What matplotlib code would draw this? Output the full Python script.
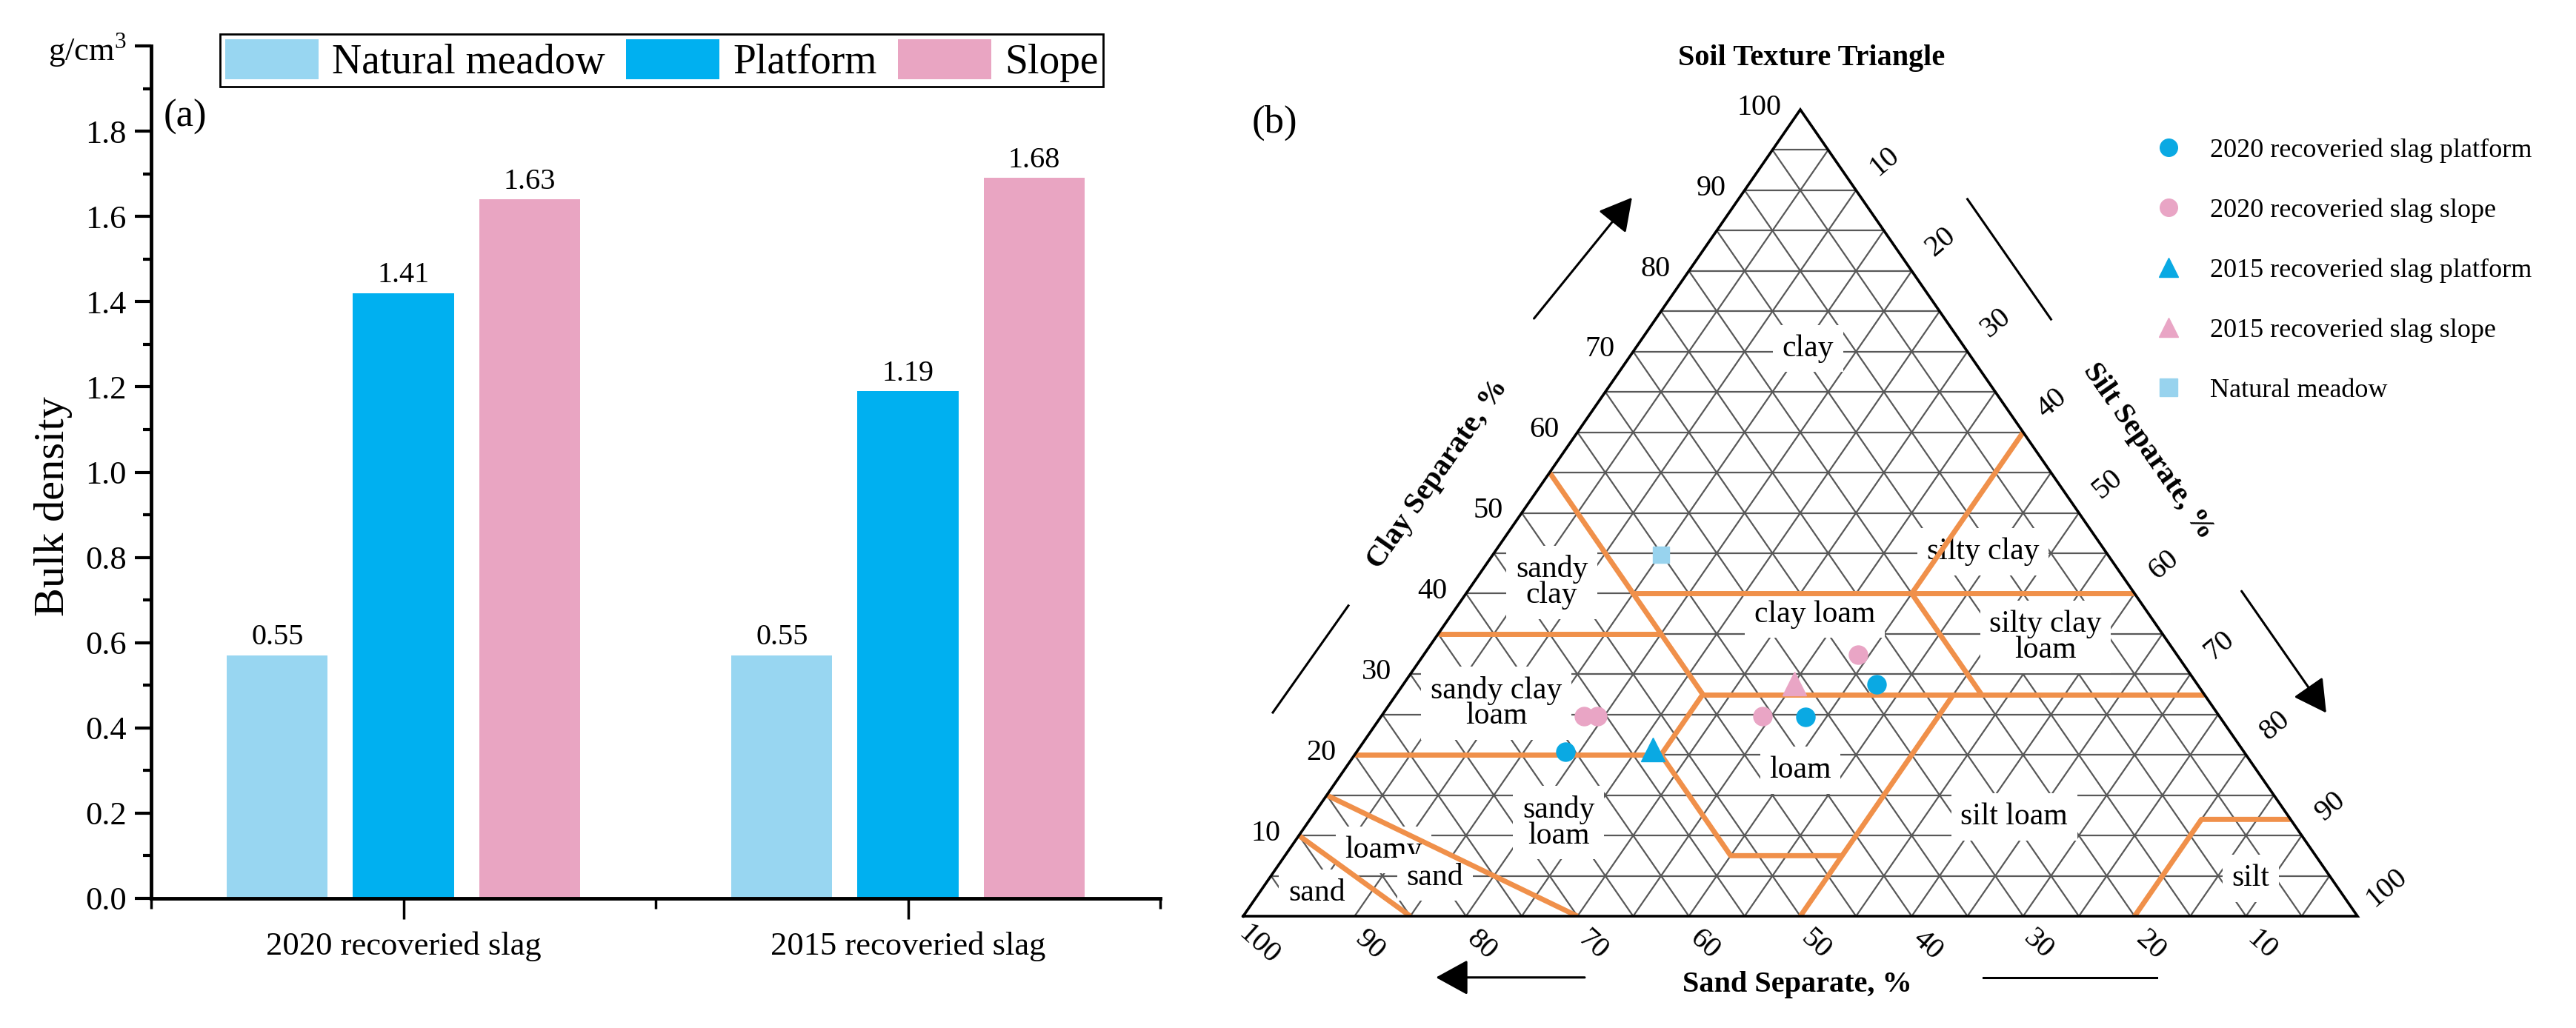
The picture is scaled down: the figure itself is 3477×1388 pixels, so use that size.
import matplotlib
matplotlib.use("Agg")
import matplotlib.pyplot as plt
from matplotlib.lines import Line2D
import numpy as np

plt.rcParams['font.family'] = ['Liberation Serif', 'DejaVu Serif']
plt.rcParams['mathtext.fontset'] = 'custom'
plt.rcParams['mathtext.rm'] = 'Liberation Serif'

# ---------------- panel (a): bulk density ----------------
groups = ['2020 recoveried slag', '2015 recoveried slag']
series = ['Natural meadow', 'Platform', 'Slope']
meadow_vals = [0.57, 0.57]
platform_vals = [1.42, 1.19]
slope_vals = [1.64, 1.69]
meadow_text = ['0.55', '0.55']
platform_text = ['1.41', '1.19']
slope_text = ['1.63', '1.68']
bar_colors = ['#98D6F1', '#00B0F0', '#E9A5C2']

# ---------------- panel (b): soil texture samples (sand, silt, clay %) ----------------
p2020_sand = [28.8, 37.2, 60.9]
p2020_silt = [42.5, 38.1, 18.7]
p2020_clay = [28.7, 24.7, 20.4]
s2020_sand = [28.6, 41.0, 57.0, 55.8]
s2020_silt = [39.0, 34.2, 18.2, 19.4]
s2020_clay = [32.4, 24.8, 24.8, 24.8]
p2015_sand = [52.9]
p2015_silt = [26.4]
p2015_clay = [20.7]
s2015_sand = [36.1]
s2015_silt = [35.1]
s2015_clay = [28.8]
nm_sand = [40.1]
nm_silt = [15.1]
nm_clay = [44.8]

# USDA class boundaries as (sand, silt, clay) polylines
boundaries = [
    [(45, 0, 55), (45, 27.5, 27.5), (52.5, 27.5, 20), (52.5, 40, 7.5), (42.5, 50, 7.5)],
    [(50, 50, 0), (22.5, 50, 27.5)],
    [(45, 15, 40), (0, 60, 40)],
    [(0, 40, 60), (20, 40, 40)],
    [(65, 0, 35), (45, 20, 35)],
    [(45, 27.5, 27.5), (0, 72.5, 27.5)],
    [(20, 40, 40), (20, 52.5, 27.5)],
    [(80, 0, 20), (52.5, 27.5, 20)],
    [(85, 0, 15), (70, 30, 0)],
    [(90, 0, 10), (85, 15, 0)],
    [(20, 80, 0), (8, 80, 12), (0, 88, 12)],
]
class_names = ['clay', 'silty clay', 'sandy\nclay', 'clay loam', 'silty clay\nloam',
               'sandy clay\nloam', 'loam', 'sandy\nloam', 'silt loam', 'loamy', 'sand', 'sand', 'silt']
class_pos = [(0.507, 0.704), (0.664, 0.452), (0.277, 0.414), (0.513, 0.374), (0.72, 0.346),
             (0.227, 0.264), (0.50, 0.181), (0.283, 0.116), (0.692, 0.123), (0.126, 0.082),
             (0.172, 0.048), (0.066, 0.029), (0.904, 0.047)]

W, H = 3477, 1388
fig = plt.figure(figsize=(W / 100, H / 100), dpi=100)


def px_box(x0, y0, x1, y1):
    return [x0 / W, 1 - y1 / H, (x1 - x0) / W, (y1 - y0) / H]


# ---------- bar chart ----------
ax = fig.add_axes(px_box(204, 62, 1566, 1213))
x = np.arange(len(groups))
width = 0.2
offsets = [-0.25, 0.0, 0.25]
for vals, txt, name, col, off in zip([meadow_vals, platform_vals, slope_vals],
                                     [meadow_text, platform_text, slope_text],
                                     series, bar_colors, offsets):
    bars = ax.bar(x + off, vals, width, color=col, label=name)
    ax.bar_label(bars, labels=txt, padding=4, fontsize=29)

ax.set_xlim(-0.5, 1.5)
ax.set_ylim(0, 2.0)
for s in ['top', 'right']:
    ax.spines[s].set_visible(False)
for s in ['left', 'bottom']:
    ax.spines[s].set_linewidth(3.5)

yt = np.round(np.arange(0, 2.01, 0.2), 1)
ax.set_yticks(yt)
ax.set_yticklabels([f'{v:.1f}' for v in yt[:-1]] + ['g/cm$^{3}$'])
ax.set_yticks(np.arange(0.1, 2.0, 0.2), minor=True)
ax.set_xticks(x)
ax.set_xticklabels(groups)
ax.set_xticks([-0.5, 0.5, 1.5], minor=True)
ax.tick_params(axis='y', which='major', length=16, width=3, labelsize=32, pad=8)
ax.tick_params(axis='y', which='minor', length=8, width=3)
ax.tick_params(axis='x', which='major', length=20, width=2.5, labelsize=32, pad=12)
ax.tick_params(axis='x', which='minor', length=10, width=2.5)
ax.set_ylabel('Bulk density', fontsize=42)
ax.yaxis.set_label_coords(-0.078, 0.46)

leg = ax.legend(loc='upper left', bbox_to_anchor=(297 / W, 1 - 46 / H),
                bbox_transform=fig.transFigure, ncol=3, fontsize=40,
                handlelength=2.27, handleheight=1.13, handletextpad=0.32,
                columnspacing=0.52, borderpad=0.12, borderaxespad=0,
                fancybox=False, edgecolor='black', framealpha=1)
leg.get_frame().set_linewidth(2)
ax.text(0.034, 0.917, '(a)', transform=ax.transAxes, fontsize=38, ha='center', va='center')

# ---------- soil texture triangle ----------
tax = fig.add_axes(px_box(1678, 148, 3182, 1237))
tax.set_xlim(0, 1)
tax.set_ylim(0, 1)
tax.axis('off')


def tern(sand, silt, clay):
    silt = np.asarray(silt, float) / 100
    clay = np.asarray(clay, float) / 100
    return silt + clay / 2, clay


grid_kw = dict(color='#585858', lw=1.6, zorder=1)
for v in range(5, 100, 5):
    tax.plot(*tern([100 - v, 0], [0, 100 - v], [v, v]), **grid_kw)
    tax.plot(*tern([v, v], [100 - v, 0], [0, 100 - v]), **grid_kw)
    tax.plot(*tern([100 - v, 0], [v, v], [0, 100 - v]), **grid_kw)
tax.plot(*tern([100, 0, 0, 100], [0, 100, 0, 0], [0, 0, 100, 0]), color='black', lw=2.6,
         zorder=5, clip_on=False, solid_joinstyle='miter')

for name, (cx, cy) in zip(class_names, class_pos):
    tax.text(cx, cy, name, fontsize=30, ha='center', va='center', linespacing=0.88, zorder=3,
             bbox=dict(boxstyle='square,pad=0.3', facecolor='white', edgecolor='none'))

for line in boundaries:
    sa, si, cl = zip(*line)
    tax.plot(*tern(sa, si, cl), color='#F0904A', lw=5, zorder=4, solid_capstyle='butt')

# axis numbers
for v in range(10, 101, 10):
    tax.annotate(str(v), tern(100 - v, 0, v), xytext=(-18, 2), textcoords='offset points',
                 ha='right', va='center', fontsize=29, annotation_clip=False)
    tax.annotate(str(v), tern(v, 100 - v, 0), xytext=(15, -28), textcoords='offset points',
                 ha='center', va='center', rotation=-42, fontsize=29, annotation_clip=False)
    tax.annotate(str(v), tern(0, v, 100 - v), xytext=(28, 28), textcoords='offset points',
                 ha='center', va='center', rotation=40, fontsize=29, annotation_clip=False)

tax.text(0.51, 1.064, 'Soil Texture Triangle', fontsize=29, fontweight='bold', ha='center', va='center')
tax.text(0.175, 0.548, 'Clay Separate, %', fontsize=29, fontweight='bold', ha='center', va='center',
         rotation=55)
tax.text(0.8125, 0.576, 'Silt Separate, %', fontsize=29, fontweight='bold', ha='center', va='center',
         rotation=-55)
tax.text(0.497, -0.0845, 'Sand Separate, %', fontsize=29, fontweight='bold', ha='center', va='center')
tax.text(0.028, 0.984, '(b)', fontsize=38, ha='center', va='center', transform=tax.transAxes)

arrow_kw = dict(arrowstyle='-|>,head_length=0.4,head_width=0.22', color='black', lw=2.2,
                mutation_scale=68, shrinkA=0, shrinkB=0)
tax.annotate('', xy=(0.349, 0.891), xytext=(0.261, 0.741), arrowprops=arrow_kw, annotation_clip=False)
tax.annotate('', xy=(0.972, 0.252), xytext=(0.896, 0.403), arrowprops=arrow_kw, annotation_clip=False)
tax.annotate('', xy=(0.173, -0.076), xytext=(0.3065, -0.076), arrowprops=arrow_kw, annotation_clip=False)
tax.plot([0.0266, 0.0944], [0.2525, 0.385], color='black', lw=2.2, clip_on=False)
tax.plot([0.650, 0.725], [0.889, 0.740], color='black', lw=2.2, clip_on=False)
tax.plot([0.664, 0.820], [-0.076, -0.076], color='black', lw=2.2, clip_on=False)

# samples
blue, pink, lblue = '#0AA9E3', '#E9A5C5', '#98D3EE'
tax.plot(*tern(p2020_sand, p2020_silt, p2020_clay), 'o', color=blue, ms=18, zorder=6, clip_on=False)
tax.plot(*tern(s2020_sand, s2020_silt, s2020_clay), 'o', color=pink, ms=18, zorder=6, clip_on=False)
tax.plot(*tern(p2015_sand, p2015_silt, p2015_clay), '^', color=blue, ms=23, zorder=6, clip_on=False)
tax.plot(*tern(s2015_sand, s2015_silt, s2015_clay), '^', color=pink, ms=23, zorder=6, clip_on=False)
tax.plot(*tern(nm_sand, nm_silt, nm_clay), 's', color=lblue, ms=16, zorder=6, clip_on=False)

handles = [Line2D([], [], ls='none', marker='o', color=blue, ms=17),
           Line2D([], [], ls='none', marker='o', color=pink, ms=17),
           Line2D([], [], ls='none', marker='^', color=blue, ms=19),
           Line2D([], [], ls='none', marker='^', color=pink, ms=19),
           Line2D([], [], ls='none', marker='s', color=lblue, ms=17)]
labels = ['2020 recoveried slag platform', '2020 recoveried slag slope',
          '2015 recoveried slag platform', '2015 recoveried slag slope', 'Natural meadow']
fig.legend(handles, labels, loc='upper left', bbox_to_anchor=(2909 / W, 1 - 186 / H),
           frameon=False, fontsize=26, handlelength=1.0, handletextpad=1.05,
           labelspacing=1.32, borderpad=0, borderaxespad=0)

fig.savefig('out.png', dpi=100)
